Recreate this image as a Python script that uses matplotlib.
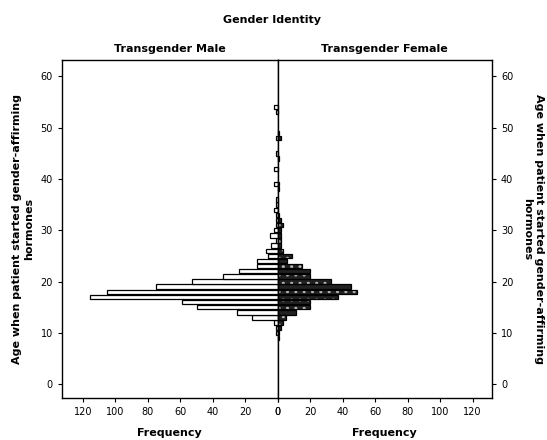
import matplotlib.pyplot as plt
import numpy as np

ages = [9, 10, 11, 12, 13, 14, 15, 16, 17, 18, 19, 20, 21, 22, 23, 24, 25, 26,
        27, 28, 29, 30, 31, 32, 33, 34, 35, 36, 38, 39, 42, 44, 45, 48, 49, 53, 54]
male = [0, 1, 1, 2, 16, 25, 50, 59, 116, 105, 75, 53, 34, 24, 13, 13, 6, 7,
        4, 1, 5, 2, 1, 1, 1, 2, 1, 1, 0, 2, 2, 0, 1, 1, 0, 1, 2]
female = [1, 1, 2, 3, 5, 11, 20, 20, 37, 49, 45, 33, 20, 20, 15, 6, 9, 3,
          2, 2, 2, 2, 3, 2, 1, 0, 0, 0, 1, 1, 0, 1, 0, 2, 1, 0, 0]
xticks = [0, 20, 40, 60, 80, 100, 120]
yticks = [0, 10, 20, 30, 40, 50, 60]

fig = plt.figure(figsize=(5.47, 4.40), dpi=100)
axl = fig.add_axes([0.1133, 0.0955, 0.3943, 0.7682])
axr = fig.add_axes([0.5077, 0.0955, 0.3918, 0.7682])

# left: transgender male, white outlined bars
axl.barh(ages, male, height=0.85, color='white', edgecolor='black', linewidth=0.9)
axl.set_xlim(133, 0)

# right: transgender female, dark dotted bars
axr.barh(ages, female, height=0.85, color='#222222', edgecolor='#bbbbbb',
         hatch='..', linewidth=0)
axr.barh(ages, female, height=0.85, fill=False, edgecolor='black', linewidth=0.9)
axr.set_xlim(0, 132)

ylab = 'Age when patient started gender-affirming\nhormones'
for ax in (axl, axr):
    ax.set_ylim(-2.7, 63.2)
    ax.set_xticks(xticks)
    ax.set_yticks(yticks)
    ax.tick_params(labelsize=7, length=3, width=0.8)
    ax.set_xlabel('Frequency', fontsize=8, fontweight='bold', labelpad=8)
    for s in ax.spines.values():
        s.set_linewidth(1.0)

axl.yaxis.tick_left()
axl.set_ylabel(ylab, fontsize=8, fontweight='bold', labelpad=5,
               multialignment='center')
axr.yaxis.tick_right()
axr.yaxis.set_label_position('right')
axr.set_ylabel(ylab, fontsize=8, fontweight='bold', rotation=270, labelpad=22,
               multialignment='center')

axl.set_title('Transgender Male', fontsize=8, fontweight='bold', pad=6)
axr.set_title('Transgender Female', fontsize=8, fontweight='bold', pad=6)
fig.text(0.497, 0.955, 'Gender Identity', ha='center', va='center',
         fontsize=8, fontweight='bold')

fig.savefig('out.png', dpi=100)
